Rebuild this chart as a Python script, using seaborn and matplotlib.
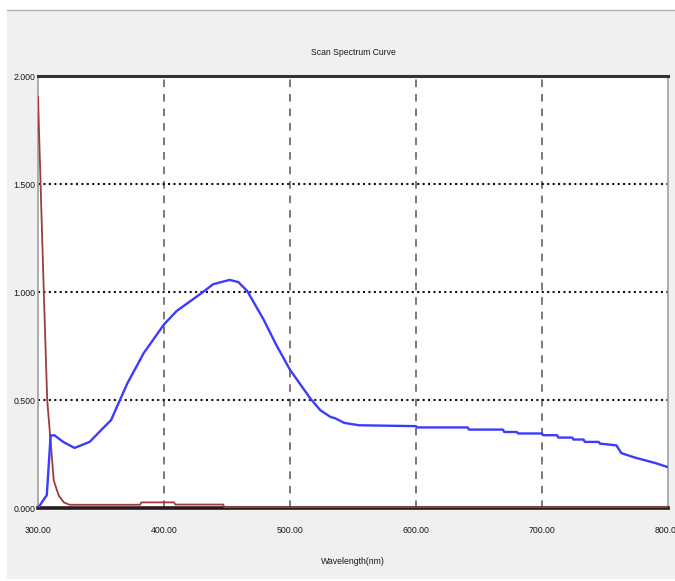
import matplotlib
matplotlib.use("Agg")
import matplotlib.pyplot as plt
import seaborn as sns
import pandas as pd
from matplotlib import font_manager as fm

# ---- data ----
blue_wl = [300, 307, 310, 313, 320, 329, 341, 350, 358, 365, 371, 384, 400, 410,
           421, 431, 439, 452, 459, 466, 479, 489, 500, 516, 524, 532, 536, 543,
           555, 600, 601, 641, 642, 669, 670, 680, 681, 700, 701, 712, 713, 724,
           725, 733, 734, 745, 746, 759, 763, 774, 790, 800]
blue_abs = [0.0, 0.06, 0.335, 0.337, 0.306, 0.278, 0.306, 0.36, 0.407, 0.5,
            0.578, 0.718, 0.85, 0.912, 0.958, 1.0, 1.036, 1.056, 1.046, 1.005,
            0.873, 0.756, 0.64, 0.508, 0.453, 0.422, 0.415, 0.394, 0.383, 0.379,
            0.373, 0.373, 0.363, 0.363, 0.352, 0.352, 0.345, 0.345, 0.337, 0.337,
            0.326, 0.326, 0.317, 0.317, 0.306, 0.306, 0.298, 0.29, 0.254, 0.233,
            0.208, 0.189]

red_wl = [300, 302, 304.6, 307.3, 310.4, 312.5, 316.5, 320.5, 325, 381, 382,
          408, 409, 447, 448, 800]
red_abs = [1.906, 1.51, 1.0, 0.5, 0.28, 0.127, 0.057, 0.026, 0.015, 0.015,
           0.026, 0.026, 0.016, 0.016, 0.003, 0.003]

x_ticks = [300, 400, 500, 600, 700, 800]
x_labels = ["300.00", "400.00", "500.00", "600.00", "700.00", "800.00"]
y_ticks = [0.0, 0.5, 1.0, 1.5, 2.0]
y_labels = ["0.000", "0.500", "1.000", "1.500", "2.000"]
title = "Scan Spectrum Curve"
xlabel = "Wavelength(nm)"

sns.set_theme(style="white")
plt.rcParams["font.family"] = ["Liberation Sans", "DejaVu Sans"]

def fp(s):
    return fm.FontProperties(family=["Liberation Sans", "DejaVu Sans"], size=s)

fig = plt.figure(figsize=(6.75, 5.81), dpi=100)
fig.patch.set_facecolor("white")
bg = plt.Rectangle((7 / 675, 2 / 581), 668 / 675, 569 / 581,
                   transform=fig.transFigure, facecolor="#f0f0f0",
                   edgecolor="none", zorder=-10)
fig.patches.append(bg)
fig.lines.append(plt.Line2D([7 / 675, 1], [1 - 10 / 581, 1 - 10 / 581],
                            transform=fig.transFigure, color="#b0b0b0", lw=1,
                            zorder=-9))

ax = fig.add_axes([38 / 675, 1 - 508 / 581, 630 / 675, 432 / 581])
ax.set_zorder(5)
ax.set_facecolor("white")

df_blue = pd.DataFrame({"wl": blue_wl, "abs": blue_abs})
df_red = pd.DataFrame({"wl": red_wl, "abs": red_abs})
sns.lineplot(data=df_red, x="wl", y="abs", ax=ax, color="#9c3d3a", lw=1.3,
             sort=False, estimator=None, zorder=3)
sns.lineplot(data=df_blue, x="wl", y="abs", ax=ax, color="#3b3bff", lw=1.7,
             sort=False, estimator=None, zorder=4)

ax.set_xlim(300, 800)
ax.set_ylim(0, 2.0)

for xv in x_ticks[1:-1]:
    ax.axvline(xv, color="#555555", lw=1.1, ls=(0, (5, 4.5)), zorder=1)
for yv in y_ticks[1:-1]:
    ax.axhline(yv, color="#111111", lw=1.5, ls=(0, (1, 1.6)), zorder=1)

ax.set_xticks(x_ticks)
ax.set_xticklabels(x_labels, fontproperties=fp(6.3))
ax.set_yticks(y_ticks)
ax.set_yticklabels(y_labels, fontproperties=fp(6.3))
ax.tick_params(axis="both", length=0, colors="#1a1a1a")
ax.tick_params(axis="x", pad=13)
ax.tick_params(axis="y", pad=2)

ax.set_xlabel(xlabel, fontproperties=fp(6.3), color="#1a1a1a", labelpad=16)
ax.set_ylabel("")
ax.set_title(title, fontproperties=fp(6.2), color="#1a1a1a", pad=15)

for side in ["left", "right"]:
    ax.spines[side].set_color("#a0a0a0")
    ax.spines[side].set_linewidth(1.2)
ax.spines["top"].set_color("#333333")
ax.spines["top"].set_linewidth(2.2)
ax.spines["bottom"].set_color("#2a1a1a")
ax.spines["bottom"].set_linewidth(2.6)

fig.savefig("out.png", dpi=100, facecolor=fig.get_facecolor())
